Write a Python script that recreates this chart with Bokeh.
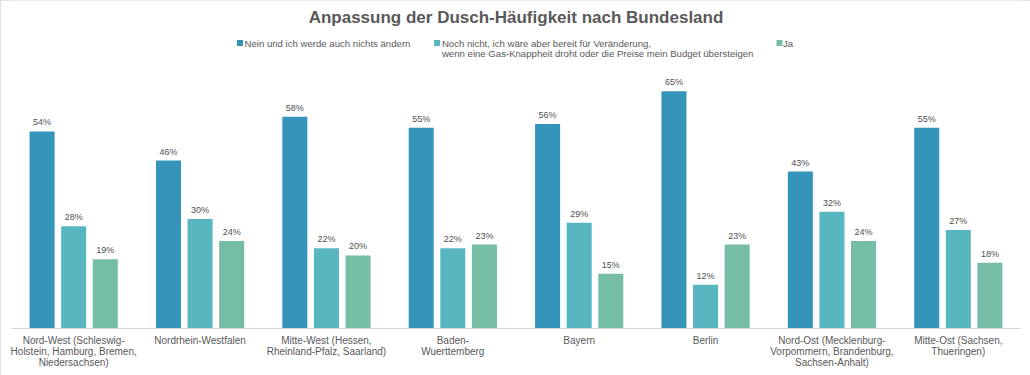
from bokeh.plotting import figure
from bokeh.models import ColumnDataSource, FactorRange, Label, Range1d
from bokeh.transform import dodge
from bokeh.embed import file_html
from bokeh.resources import INLINE
from bokeh.core.properties import value

# ---------------- data ----------------
regions = [
    "Nord-West (Schleswig-\nHolstein, Hamburg, Bremen,\nNiedersachsen)",
    "Nordrhein-Westfalen",
    "Mitte-West (Hessen,\nRheinland-Pfalz, Saarland)",
    "Baden-\nWuerttemberg",
    "Bayern",
    "Berlin",
    "Nord-Ost (Mecklenburg-\nVorpommern, Brandenburg,\nSachsen-Anhalt)",
    "Mitte-Ost (Sachsen,\nThueringen)",
]
nein = [54, 46, 58, 55, 56, 65, 43, 55]
noch_nicht = [28, 30, 22, 22, 29, 12, 32, 27]
ja = [19, 24, 20, 23, 15, 23, 24, 18]

series_keys = ["nein", "noch_nicht", "ja"]
series_names = [
    "Nein und ich werde auch nichts ändern",
    "Noch nicht, ich wäre aber bereit für Veränderung,\nwenn eine Gas-Knappheit droht oder die Preise mein Budget übersteigen",
    "Ja",
]
colors = ["#3494BA", "#58B6C0", "#75BDA7"]
chart_title = "Anpassung der Dusch-Häufigkeit nach Bundesland"

# ---------------- layout constants ----------------
FONT = "Liberation Sans"
TEXT_GREY = "#595959"
Y_TOP = 89.86
offsets = [-0.25, 0.0, 0.25]
BAR_W = 0.198

src = ColumnDataSource(dict(
    region=regions,
    nein=nein, noch_nicht=noch_nicht, ja=ja,
    nein_lbl=[f"{v}%" for v in nein],
    noch_nicht_lbl=[f"{v}%" for v in noch_nicht],
    ja_lbl=[f"{v}%" for v in ja],
))

p = figure(
    x_range=FactorRange(factors=regions, range_padding=0),
    y_range=Range1d(0, Y_TOP),
    width=1030, height=375,
    output_backend="svg", toolbar_location=None,
    y_axis_location=None,
    min_border_left=10, min_border_right=9, min_border_top=0, min_border_bottom=47,
)
p.styles = {"outline": "1px solid #d9d9d9", "outline-offset": "-1px"}
p.outline_line_color = None
p.xgrid.visible = False
p.ygrid.visible = False
p.background_fill_color = "white"
p.border_fill_color = "white"

for key, color, off in zip(series_keys, colors, offsets):
    xpos = dodge("region", off, range=p.x_range)
    p.vbar(x=xpos, top=key, width=BAR_W, source=src,
           fill_color=color, line_color=None)
    p.text(x=xpos, y=key, text=key + "_lbl", source=src,
           text_align="center", text_baseline="bottom", y_offset=-4,
           text_font=value(FONT), text_font_size="9px", text_color="#505050")

# x axis
ax = p.xaxis[0]
ax.axis_line_color = "#d9d9d9"
ax.axis_line_width = 1
ax.major_tick_line_color = None
ax.minor_tick_line_color = None
ax.major_label_standoff = 0
ax.major_label_text_font = FONT
ax.major_label_text_font_size = "10px"
ax.major_label_text_color = TEXT_GREY
ax.major_label_text_line_height = 1.0
ax.major_label_orientation = "horizontal"

# title
p.add_layout(Label(x=4.0, y=85.2, text=chart_title, text_align="center",
                   text_baseline="middle", text_font=FONT, text_font_size="17px",
                   text_font_style="bold", text_color=TEXT_GREY))

# legend (manual, to reproduce the spread-out layout)
leg_sq_x = [1.816, 3.375, 6.085]
leg_tx_x = [1.852, 3.414, 6.113]
row1_y, row2_y = 78.2, 75.3
p.scatter(x=leg_sq_x, y=[row1_y] * 3, marker="square", size=6,
          fill_color=colors, line_color=None)
leg_lines_x, leg_lines_y, leg_lines_t = [], [], []
for tx, name in zip(leg_tx_x, series_names):
    for j, line in enumerate(name.split("\n")):
        leg_lines_x.append(tx)
        leg_lines_y.append(row1_y if j == 0 else row2_y)
        leg_lines_t.append(line)
p.text(x=leg_lines_x, y=leg_lines_y, text=leg_lines_t,
       text_align="left", text_baseline="middle",
       text_font=value(FONT), text_font_size="9.6px", text_color=TEXT_GREY)

open("out.html", "w").write(file_html(p, INLINE))
